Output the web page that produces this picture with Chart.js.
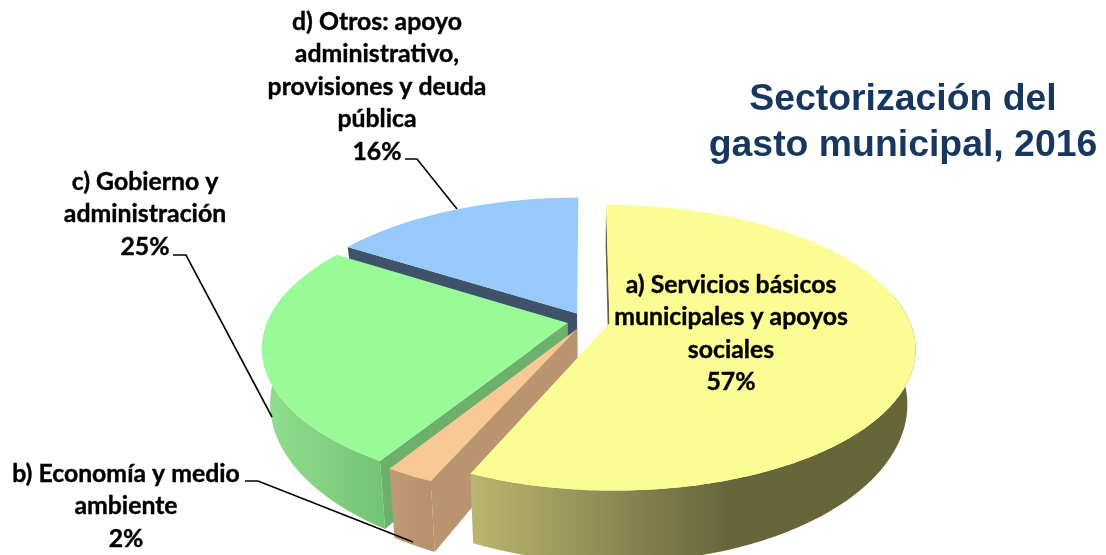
<!DOCTYPE html>
<html>
<head>
<meta charset="utf-8">
<title>Sectorización del gasto municipal, 2016</title>
<script src="https://cdn.jsdelivr.net/npm/chart.js@4"></script>
<style>
  html, body { margin: 0; padding: 0; background: #fff; }
  #wrap { width: 1106px; height: 555px; }
</style>
</head>
<body>
<div id="wrap"><canvas id="pie" width="1106" height="555"></canvas></div>
<script>
// datos
const categories = [
  "a) Servicios básicos municipales y apoyos sociales",
  "b) Economía y medio ambiente",
  "c) Gobierno y administración",
  "d) Otros: apoyo administrativo, provisiones y deuda pública"
];
const shares = [56.6, 2.2, 25.2, 16];
const titleLines = ["Sectorización del", "gasto municipal, 2016"];
const labelLines = [
  ["a) Servicios básicos", "municipales y apoyos", "sociales", "57%"],
  ["b) Economía y medio", "ambiente", "2%"],
  ["c) Gobierno y", "administración", "25%"],
  ["d) Otros: apoyo", "administrativo,", "provisiones y deuda", "pública", "16%"]
];

const topColors = ["#FCFC94", "#F9C894", "#98FB98", "#97C9FB"];
const faceColors = ["#66663C", "#B9946E", "#6CB06C", "#3F5269"];
// degradado de la pared exterior: [x, color]
const wallStops = [
  [[461, "#BDB972"], [730, "#66663A"], [910, "#66663A"]],
  [[390, "#BE9A76"], [430, "#B8926C"]],
  [[265, "#90DE8E"], [390, "#73C272"]],
  [[350, "#3F5269"], [578, "#3F5269"]]
];

// proyeccion del disco
const A = 300, B = 138, P = 0.17, DEPTH = 52, SHRINK = 0.975;

function project(arc, u, v, bottom) {
  const s = 1 / (1 - P * v);
  const k = bottom ? SHRINK : 1;
  return {
    x: arc.x + A * u * s * k,
    y: arc.y + B * v * s * k + (bottom ? DEPTH * s * s : 0)
  };
}

function drawSlice(ctx, arc, i) {
  const mid = (arc.startAngle + arc.endAngle) / 2;
  const off = arc.options.offset / arc.outerRadius;
  const ou = Math.cos(mid) * off, ov = Math.sin(mid) * off;
  const rim = [];
  const steps = Math.max(4, Math.ceil((arc.endAngle - arc.startAngle) * 60));
  for (let n = 0; n <= steps; n++) {
    const t = arc.startAngle + (arc.endAngle - arc.startAngle) * n / steps;
    rim.push([Math.cos(t) + ou, Math.sin(t) + ov]);
  }
  const apex = [ou, ov];

  const poly = (pts, fill) => {
    ctx.beginPath();
    pts.forEach((p, n) => n ? ctx.lineTo(p.x, p.y) : ctx.moveTo(p.x, p.y));
    ctx.closePath();
    ctx.fillStyle = fill;
    ctx.fill();
  };

  // cara radial
  poly([
    project(arc, apex[0], apex[1], false),
    project(arc, rim[0][0], rim[0][1], false),
    project(arc, rim[0][0], rim[0][1], true),
    project(arc, apex[0], apex[1], true)
  ], faceColors[i]);

  // pared exterior, solo la parte que da al frente
  const front = rim.filter(p => p[1] > -0.2);
  if (front.length > 1) {
    const stops = wallStops[i];
    const x0 = stops[0][0], x1 = stops[stops.length - 1][0];
    const grad = ctx.createLinearGradient(x0, 0, x1, 0);
    stops.forEach(st => grad.addColorStop((st[0] - x0) / (x1 - x0), st[1]));
    const wall = front.map(p => project(arc, p[0], p[1], false))
      .concat(front.slice().reverse().map(p => project(arc, p[0], p[1], true)));
    poly(wall, grad);
  }

  // cara superior
  poly([project(arc, apex[0], apex[1], false)]
    .concat(rim.map(p => project(arc, p[0], p[1], false))), arc.options.backgroundColor);
}

const pie3d = {
  id: 'pie3d',
  beforeDatasetDraw(chart, args) {
    const arcs = chart.getDatasetMeta(args.index).data;
    [3, 2, 1, 0].forEach(i => drawSlice(chart.ctx, arcs[i], i));
    return false; // no dibujar el pie plano
  },
  afterDraw(chart) {
    const ctx = chart.ctx;
    ctx.save();
    // lineas guia
    ctx.strokeStyle = "#000";
    ctx.lineWidth = 1.6;
    [
      [[405, 159], [417, 159], [457, 209]],
      [[173, 255], [186, 255], [272, 417]],
      [[245, 481], [258, 481], [413, 542]]
    ].forEach(l => {
      ctx.beginPath();
      l.forEach((p, n) => n ? ctx.lineTo(p[0], p[1]) : ctx.moveTo(p[0], p[1]));
      ctx.stroke();
    });

    ctx.textAlign = "center";
    ctx.textBaseline = "middle";
    ctx.fillStyle = "#000";
    ctx.strokeStyle = "#000";
    ctx.lineWidth = 0.4;
    ctx.font = "bold 24.8px Lato";
    const spots = [[731, 285], [126, 474], [145, 182], [377, 22]];
    labelLines.forEach((lines, i) => {
      lines.forEach((txt, n) => {
        ctx.fillText(txt, spots[i][0], spots[i][1] + n * 32.4);
        ctx.strokeText(txt, spots[i][0], spots[i][1] + n * 32.4);
      });
    });

    ctx.fillStyle = "#17375E";
    ctx.font = "bold 37.4px 'Liberation Sans'";
    ctx.fillText(titleLines[0], 903, 100);
    ctx.fillText(titleLines[1], 903, 146);
    ctx.restore();
  }
};

new Chart(document.getElementById('pie'), {
  type: 'pie',
  data: {
    labels: categories,
    datasets: [{
      data: shares,
      backgroundColor: topColors,
      borderWidth: 0,
      offset: [18, 14, 14, 14]
    }]
  },
  options: {
    responsive: false,
    animation: false,
    layout: { padding: { left: 66, top: 87 } },
    plugins: { legend: { display: false }, tooltip: { enabled: false } }
  },
  plugins: [pie3d]
});
</script>
</body>
</html>
